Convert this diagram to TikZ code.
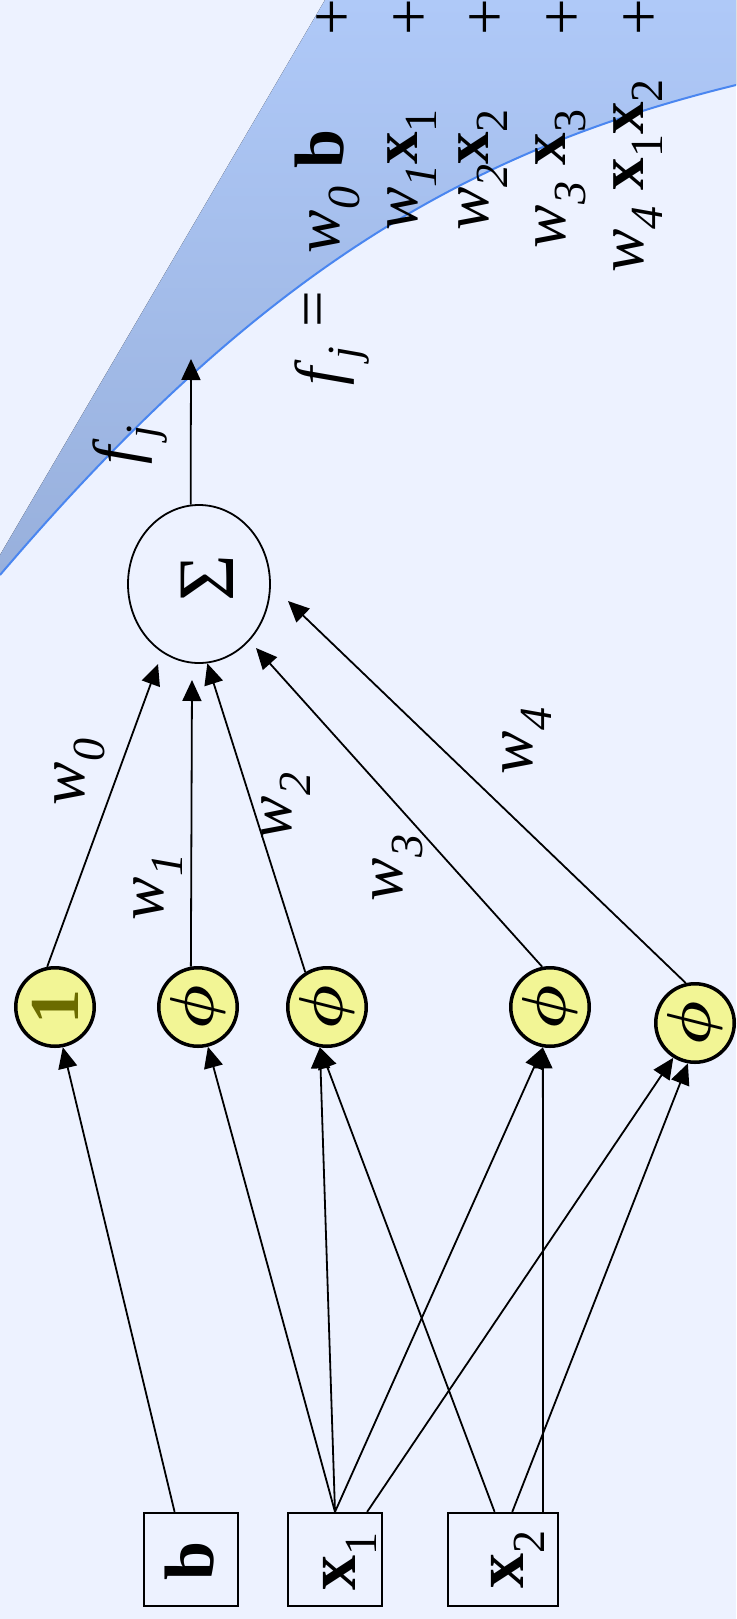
\documentclass[tikz,border=0pt]{standalone}
\usepackage{fontspec}
\setmainfont{Liberation Serif}
\usepackage{graphicx}
\usetikzlibrary{arrows.meta,shapes.geometric}
\definecolor{bg}{HTML}{EDF2FF}
\definecolor{bluetop}{HTML}{AFC9F8}
\definecolor{bluebot}{HTML}{98B0DC}
\definecolor{curvecol}{HTML}{4A86F0}
\definecolor{ylw}{HTML}{F2F595}
\definecolor{oliv}{HTML}{6B6B00}
\newcommand\lo[1]{\raisebox{-0.3em}{\fontsize{46}{46}\selectfont #1}}
\newcommand\phisym{\rotatebox{90}{\scalebox{6.2}{\boldmath$\phi$}}}
\begin{document}
\begin{tikzpicture}[x=1pt,y=-1pt,
  arr/.style={line width=1.8pt,-{Triangle[length=21pt,width=19pt]}},
  unit/.style={circle,draw,line width=3.5pt,fill=ylw,minimum size=78.5pt,inner sep=0pt},
  inbox/.style={rectangle,draw,line width=1.8pt,minimum height=93.5pt,inner sep=0pt},
  lbl/.style={rotate=90,inner sep=0pt,font=\fontsize{65}{72}\selectfont},
  big/.style={rotate=90,inner sep=0pt,font=\fontsize{70}{76}\selectfont}]
\fill[bg] (0,0) rectangle (736,1619);
\useasboundingbox (0,0) rectangle (736,1619);
\fill[top color=bluetop,bottom color=bluebot] (0,555) -- (325,0) -- (736,0) -- (736,85)
  .. controls (470,150) and (260,270) .. (0,575) -- cycle;
\draw[curvecol,line width=2pt] (0,575) .. controls (260,270) and (470,150) .. (736,85);

% formula
\node[lbl] (fa) at (332,366) {\textit{f}\lo{\itshape j}};
\node[lbl] (fb) at (319.5,309) {=};
\node[lbl] (fc) at (335,220) {\textit{w}\lo{\itshape 0}};
\node[big] (fd) at (319.5,149) {\textbf{b}};
\node[lbl] (l2) at (412,170) {\textit{w}\lo{\itshape 1}\textbf{x}\lo{1}};
\node[lbl] (l3) at (483,170) {\textit{w}\lo{\itshape 2}\textbf{x}\lo{2}};
\node[lbl] (l4) at (561,179) {\textit{w}\lo{\itshape 3} \textbf{x}\lo{3}};
\node[lbl] (l5) at (638,176) {\textit{w}\lo{\itshape 4} \textbf{x}\lo{1}\textbf{x}\lo{2}};
\node[lbl] (p1) at (335,17.5) {+};
\node[lbl] (p2) at (412,17.5) {+};
\node[lbl] (p3) at (488,17.5) {+};
\node[lbl] (p4) at (565,17.5) {+};
\node[lbl] (p5) at (642,17.5) {+};

% sum node
\node[ellipse,draw,line width=1.8pt,minimum width=142pt,minimum height=158pt,inner sep=0pt] (sigma) at (199,584) {};
\node[rotate=90,inner sep=0pt,font=\fontsize{80}{84}\selectfont] (sigtxt) at (207,578) {Σ};

% units
\node[unit] (one) at (55,1007) {\rotatebox{90}{\fontsize{70}{70}\selectfont\bfseries\color{oliv}1}};
\node[unit] (phi1) at (198,1007) {\phisym};
\node[unit] (phi2) at (327,1007) {\phisym};
\node[unit] (phi3) at (550,1007) {\phisym};
\node[unit] (phi4) at (695,1023) {\phisym};

% inputs
\node[inbox,minimum width=94.5pt] (b) at (191,1559.5) {};
\node[inbox,minimum width=94.5pt] (x1) at (335,1559.5) {};
\node[inbox,minimum width=110.5pt] (x2) at (503,1559.5) {};
\node[big] (bt) at (190,1561) {\textbf{b}};
\node[big] (x1t) at (350,1561) {\textbf{x}\lo{1}};
\node[big] (x2t) at (518,1559) {\textbf{x}\lo{2}};

% input edges
\draw[arr] (b.109) -- (one.-79);
\draw[arr] (x1.90) -- (phi1.-76);
\draw[arr] (x1.90) -- (phi2.-100);
\draw[arr] (x1.90) -- (phi3.-100);
\draw[arr] (x1.56) -- (phi4.-122);
\draw[arr] (x2.100) -- (phi2.-100);
\draw[arr] (x2.50) -- (phi3.-100);
\draw[arr] (x2.79) -- (phi4.-100);

% edges to sum
\coordinate (t0) at (158,664);
\coordinate (t1) at (192,680);
\coordinate (t3) at (256,648);
\coordinate (t4) at (288,601);
\coordinate (tout) at (191,359);
\draw[arr] (one.101) -- (t0);
\draw[arr] (phi1.100) -- (t1);
\draw[arr] (phi2.122) -- (sigma.-84);
\draw[arr] (phi3.101) -- (t3);
\draw[arr] (phi4.103) -- (t4);
\draw[arr] (sigma.96) -- (tout);

% labels
\node[lbl] (lf) at (130,445) {\textit{f}\lo{\itshape j}};
\node[lbl] (lw0) at (80,772) {\textit{w}\lo{\itshape 0}};
\node[lbl] (lw1) at (158,887) {\textit{w}\lo{\itshape 1}};
\node[lbl] (lw2) at (286,806) {\textit{w}\lo{\itshape 2}};
\node[lbl] (lw3) at (398,868) {\textit{w}\lo{\itshape 3}};
\node[lbl] (lw4) at (527,741) {\textit{w}\lo{\itshape 4}};
\end{tikzpicture}
\end{document}
